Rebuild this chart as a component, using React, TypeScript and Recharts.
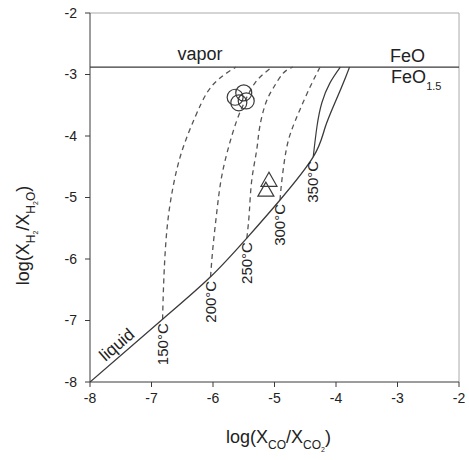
import {
  ComposedChart,
  Line,
  Scatter,
  XAxis,
  YAxis,
  ReferenceLine,
  ReferenceDot,
} from 'recharts';

// axis ticks (log units)
const axisTicks = [-8, -7, -6, -5, -4, -3, -2];

// FeO / FeO1.5 buffer and vapor boundary
const vaporBoundary = -2.88;

// liquid-vapor boundary
const liquid = [
  { x: -8, y: -8 },
  { x: -6.82, y: -6.98 },
  { x: -6.04, y: -6.29 },
  { x: -5.45, y: -5.66 },
  { x: -4.91, y: -5.04 },
  { x: -4.37, y: -4.34 },
  { x: -4.18, y: -3.87 },
  { x: -4.0, y: -3.42 },
  { x: -3.85, y: -3.06 },
  { x: -3.78, y: -2.88 },
];

// isotherms, first point = junction with the liquid curve
const iso150 = [
  { x: -6.82, y: -6.98 },
  { x: -6.8, y: -6.34 },
  { x: -6.75, y: -5.53 },
  { x: -6.65, y: -4.83 },
  { x: -6.5, y: -4.23 },
  { x: -6.29, y: -3.69 },
  { x: -6.1, y: -3.3 },
  { x: -5.89, y: -3.06 },
  { x: -5.63, y: -2.88 },
];
const iso200 = [
  { x: -6.04, y: -6.29 },
  { x: -6.0, y: -5.8 },
  { x: -5.94, y: -5.25 },
  { x: -5.87, y: -4.72 },
  { x: -5.76, y: -4.23 },
  { x: -5.61, y: -3.74 },
  { x: -5.45, y: -3.37 },
  { x: -5.28, y: -3.09 },
  { x: -5.04, y: -2.88 },
];
const iso250 = [
  { x: -5.45, y: -5.66 },
  { x: -5.41, y: -5.25 },
  { x: -5.37, y: -4.72 },
  { x: -5.29, y: -4.23 },
  { x: -5.24, y: -3.85 },
  { x: -5.14, y: -3.46 },
  { x: -5.02, y: -3.22 },
  { x: -4.86, y: -2.98 },
  { x: -4.7, y: -2.88 },
];
const iso300 = [
  { x: -4.91, y: -5.04 },
  { x: -4.88, y: -4.72 },
  { x: -4.81, y: -4.23 },
  { x: -4.72, y: -3.9 },
  { x: -4.59, y: -3.58 },
  { x: -4.42, y: -3.2 },
  { x: -4.26, y: -2.88 },
];
const iso350 = [
  { x: -4.37, y: -4.34 },
  { x: -4.31, y: -3.85 },
  { x: -4.23, y: -3.46 },
  { x: -4.1, y: -3.14 },
  { x: -3.93, y: -2.88 },
];

const dashedIsotherms = [iso150, iso200, iso250, iso300];
const tempLabels = ['150°C', '200°C', '250°C', '300°C', '350°C'];
const junctions = [iso150[0], iso200[0], iso250[0], iso300[0], iso350[0]];

// samples
const circles = [
  { x: -5.64, y: -3.37 },
  { x: -5.5, y: -3.3 },
  { x: -5.46, y: -3.43 },
  { x: -5.58, y: -3.46 },
];
const triangles = [
  { x: -5.09, y: -4.72 },
  { x: -5.14, y: -4.88 },
];

const FONT = '"Liberation Sans", Arial, sans-serif';
const INK = '#3a3a3a';

function CircleMark({ cx, cy }: any) {
  return <circle cx={cx} cy={cy} r={8} fill="none" stroke={INK} strokeWidth={1.2} />;
}

function TriangleMark({ cx, cy }: any) {
  const pts = `${cx},${cy - 8} ${cx - 8},${cy + 6} ${cx + 8},${cy + 6}`;
  return <polygon points={pts} fill="none" stroke={INK} strokeWidth={1.2} />;
}

function XTitle({ viewBox }: any) {
  const cx = viewBox.x + viewBox.width / 2 + 4;
  const y = viewBox.y + 61;
  return (
    <text x={cx} y={y} textAnchor="middle" fontFamily={FONT} fontSize={18} fill="#222">
      log(X
      <tspan fontSize={12} dy={6}>CO</tspan>
      <tspan dy={-6}>/X</tspan>
      <tspan fontSize={12} dy={6}>CO</tspan>
      <tspan fontSize={7} dy={3}>2</tspan>
      <tspan dy={-9}>)</tspan>
    </text>
  );
}

function YTitle({ viewBox }: any) {
  const x = 29;
  const cy = viewBox.y + viewBox.height / 2 + 38;
  return (
    <text
      transform={`translate(${x},${cy}) rotate(-90)`}
      textAnchor="middle"
      fontFamily={FONT}
      fontSize={18}
      fill="#222"
    >
      log(X
      <tspan fontSize={12} dy={6}>H</tspan>
      <tspan fontSize={7} dy={3}>2</tspan>
      <tspan dy={-9}>/X</tspan>
      <tspan fontSize={12} dy={6}>H</tspan>
      <tspan fontSize={7} dy={3}>2</tspan>
      <tspan fontSize={12} dy={-3}>O</tspan>
      <tspan dy={-6}>)</tspan>
    </text>
  );
}

export default function App() {
  return (
    <div style={{ position: 'absolute', left: 0, top: 0, background: '#fff' }}>
      <ComposedChart
        width={469}
        height={460}
        margin={{ top: 13, right: 10, bottom: 0, left: 0 }}
      >
        <XAxis
          type="number"
          dataKey="x"
          domain={[-8, -2]}
          ticks={axisTicks}
          allowDataOverflow
          height={78}
          tickSize={5}
          tickMargin={6}
          stroke={INK}
          tick={{ fill: '#222', fontSize: 14, fontFamily: FONT }}
          label={<XTitle />}
        />
        <YAxis
          type="number"
          dataKey="y"
          domain={[-8, -2]}
          ticks={axisTicks}
          allowDataOverflow
          width={90}
          tickSize={5}
          tickMargin={8}
          stroke={INK}
          tick={{ fill: '#222', fontSize: 14, fontFamily: FONT }}
          label={<YTitle />}
        />
        <ReferenceLine y={-2} stroke="#aaa" strokeWidth={1} />
        <ReferenceLine x={-2} stroke="#aaa" strokeWidth={1} />
        <ReferenceLine y={vaporBoundary} stroke={INK} strokeWidth={1.3} />

        {dashedIsotherms.map((d, i) => (
          <Line
            key={i}
            data={d}
            dataKey="y"
            type="natural"
            stroke="#555"
            strokeWidth={1.3}
            strokeDasharray="5 4"
            dot={false}
            activeDot={false}
            isAnimationActive={false}
          />
        ))}
        <Line
          data={iso350}
          dataKey="y"
          type="natural"
          stroke={INK}
          strokeWidth={1.2}
          dot={false}
          activeDot={false}
          isAnimationActive={false}
        />
        <Line
          data={liquid}
          dataKey="y"
          type="natural"
          stroke={INK}
          strokeWidth={1.3}
          dot={false}
          activeDot={false}
          isAnimationActive={false}
        />

        <Scatter data={circles} shape={<CircleMark />} isAnimationActive={false} />
        <Scatter data={triangles} shape={<TriangleMark />} isAnimationActive={false} />

        {junctions.map((p, i) => (
          <ReferenceDot
            key={tempLabels[i]}
            x={p.x}
            y={p.y}
            r={0}
            shape={({ cx, cy }: any) => (
              <text
                transform={`translate(${cx + 5},${cy + 4}) rotate(-90)`}
                textAnchor="end"
                fontFamily={FONT}
                fontSize={15}
                fill="#222"
              >
                {tempLabels[i]}
              </text>
            )}
          />
        ))}

        <ReferenceDot
          x={-6.21}
          y={vaporBoundary}
          r={0}
          shape={({ cx, cy }: any) => (
            <text x={cx} y={cy - 7} textAnchor="middle" fontFamily={FONT} fontSize={18} fill="#222">
              vapor
            </text>
          )}
        />
        <ReferenceDot
          x={-3.12}
          y={vaporBoundary}
          r={0}
          shape={({ cx, cy }: any) => (
            <g fontFamily={FONT} fill="#222">
              <text x={cx} y={cy - 5} fontSize={18}>FeO</text>
              <text x={cx + 1} y={cy + 16} fontSize={18}>
                FeO
                <tspan fontSize={11} dy={7}>1.5</tspan>
              </text>
            </g>
          )}
        />
        <ReferenceDot
          x={-7.45}
          y={-7.525}
          r={0}
          shape={({ cx, cy }: any) => (
            <text
              transform={`translate(${cx},${cy}) rotate(-41)`}
              y={-5}
              textAnchor="middle"
              fontFamily={FONT}
              fontSize={17}
              fill="#222"
            >
              liquid
            </text>
          )}
        />
      </ComposedChart>
    </div>
  );
}
